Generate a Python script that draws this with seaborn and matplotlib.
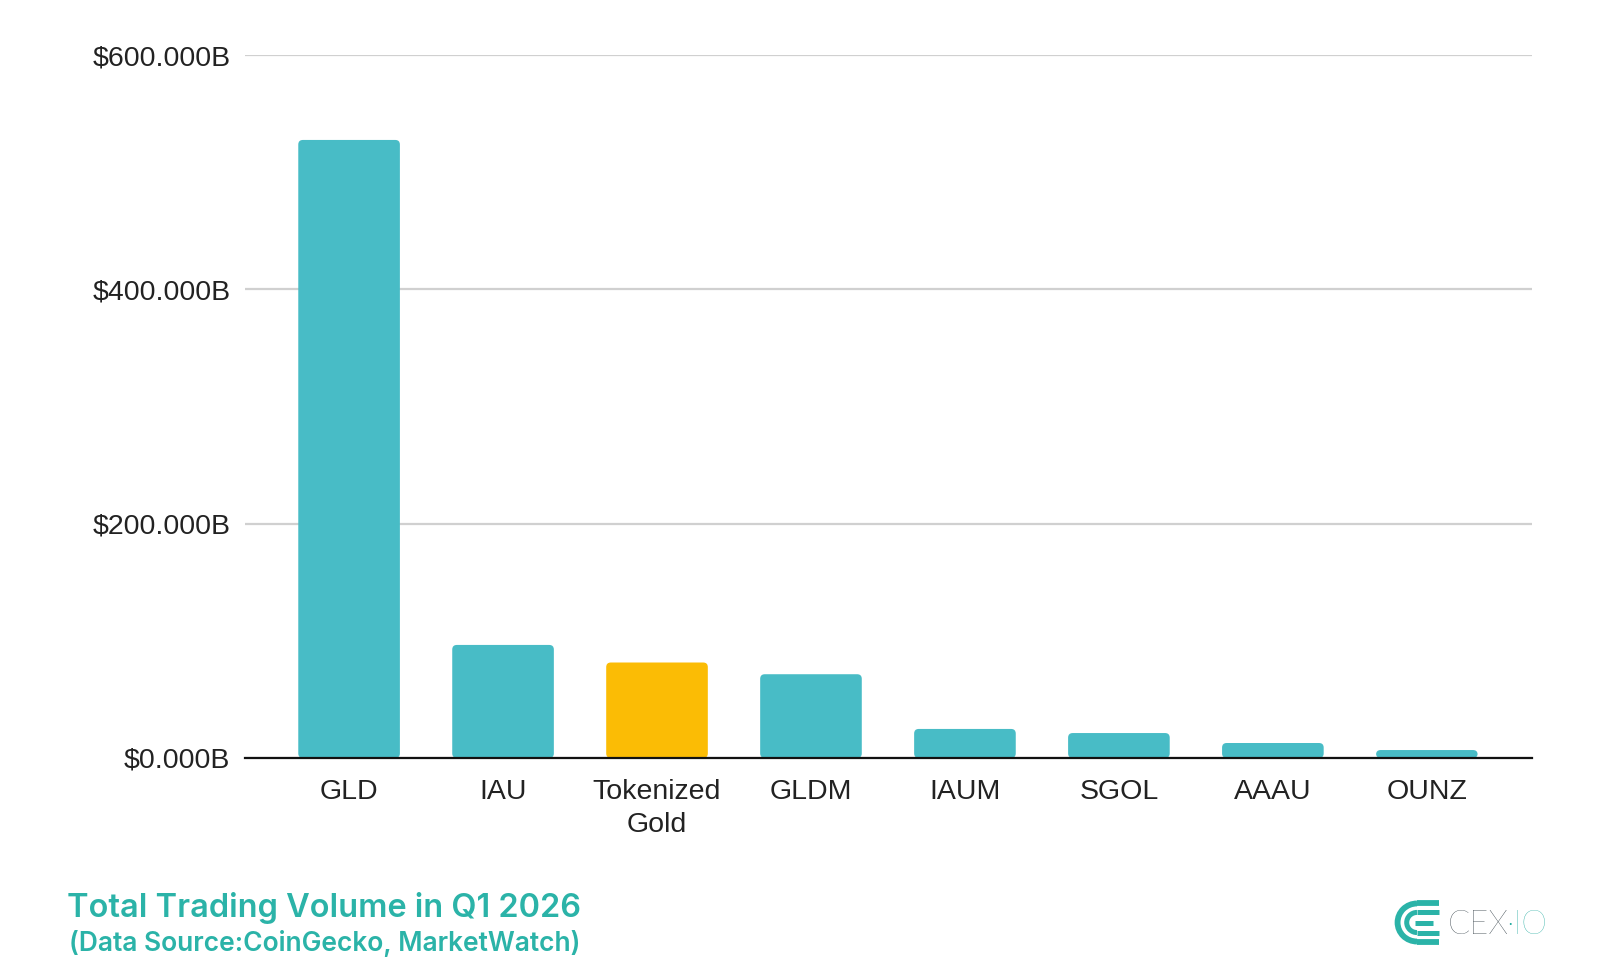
import matplotlib
matplotlib.use("Agg")
import matplotlib.pyplot as plt
import seaborn as sns
import pandas as pd
from matplotlib.ticker import FuncFormatter, MultipleLocator
from matplotlib.patches import Arc, FancyBboxPatch

# --- dati (miliardi di USD) ---
categorie = ["GLD", "IAU", "Tokenized\nGold", "GLDM", "IAUM", "SGOL", "AAAU", "OUNZ"]
volumi = [527.5, 96.5, 81.5, 71.5, 24.8, 21.3, 12.8, 6.8]
colori = ["#48bcc6", "#48bcc6", "#fbbc05", "#48bcc6", "#48bcc6", "#48bcc6", "#48bcc6", "#48bcc6"]

df = pd.DataFrame({"categoria": categorie, "volume": volumi})

sns.set_theme(style="white")
plt.rcParams["font.family"] = ["Liberation Sans", "DejaVu Sans"]

fig = plt.figure(figsize=(16, 9.65), dpi=100)
ax = fig.add_axes([245 / 1600, 1 - 758 / 965, (1532 - 245) / 1600, (758 - 55) / 965])

sns.barplot(data=df, x="categoria", y="volume", hue="categoria", palette=colori,
            legend=False, width=0.66, saturation=1, ax=ax, zorder=3)

ax.set_xlim(-0.676, 7.683)
ax.set_ylim(0, 600)

# angoli leggermente arrotondati
for p in list(ax.patches):
    x0, y0, w, h = p.get_x(), p.get_y(), p.get_width(), p.get_height()
    nuovo = FancyBboxPatch((x0, y0), w, h, boxstyle="round,pad=0,rounding_size=0.03",
                           mutation_aspect=(600 / 703) / (8.359 / 1287),
                           facecolor=p.get_facecolor(), edgecolor="none", zorder=3)
    p.remove()
    ax.add_patch(nuovo)

ax.yaxis.set_major_locator(MultipleLocator(200))
ax.yaxis.set_major_formatter(FuncFormatter(lambda v, pos: f"${v:.3f}B"))
ax.grid(axis="y", color="#d0d0d0", linewidth=1.6, zorder=0)
ax.grid(axis="x", visible=False)

for s in ["top", "right", "left"]:
    ax.spines[s].set_visible(False)
ax.spines["bottom"].set_color("#111111")
ax.spines["bottom"].set_linewidth(1.6)
ax.spines["bottom"].set_zorder(4)

ax.tick_params(axis="x", length=0, pad=15, labelsize=20.5, labelcolor="#222222")
ax.tick_params(axis="y", length=0, pad=10.5, labelsize=20.5, labelcolor="#222222")
for t in ax.get_xticklabels():
    t.set_linespacing(1.35)
ax.set_xlabel("")
ax.set_ylabel("")

# --- titolo in basso ---
teal = "#2bb3a8"
fig.text(67 / 1600, 1 - 917 / 965, "Total Trading Volume in Q1 2026", color=teal,
         fontsize=23.4, fontweight="semibold", family=["Inter", "DejaVu Sans"], va="baseline")
fig.text(69 / 1600, 1 - 951 / 965, "(Data Source:CoinGecko, MarketWatch)", color=teal,
         fontsize=19, fontweight="semibold", family=["Inter", "DejaVu Sans"], va="baseline")

# --- logo CEX.IO ---
fig.text(1448 / 1600, 1 - 934 / 965, "CEX", color="#15232c", fontsize=23.5,
         fontweight="light", family=["Lato", "DejaVu Sans"], va="baseline")
fig.text(1506 / 1600, 1 - 934 / 965, "·IO", color="#1aa89c", fontsize=23.5,
         fontweight="light", family=["Lato", "DejaVu Sans"], va="baseline")

ax_logo = fig.add_axes([1393 / 1600, 1 - 946 / 965, 48 / 1600, 47 / 965])
ax_logo.set_xlim(-1.05, 1.05)
ax_logo.set_ylim(-1.05, 1.05)
ax_logo.axis("off")
for raggio, lw in [(0.85, 4.2), (0.45, 3.6)]:
    ax_logo.add_patch(Arc((0, 0), 2 * raggio, 2 * raggio, theta1=90, theta2=270,
                          color=teal, linewidth=lw))
    ax_logo.plot([0, 0.95], [raggio, raggio], color=teal, linewidth=lw, solid_capstyle="butt")
    ax_logo.plot([0, 0.95], [-raggio, -raggio], color=teal, linewidth=lw, solid_capstyle="butt")
ax_logo.plot([-0.1, 0.7], [0, 0], color=teal, linewidth=3.6, solid_capstyle="butt")

fig.savefig("out.png", dpi=100, facecolor="white")
